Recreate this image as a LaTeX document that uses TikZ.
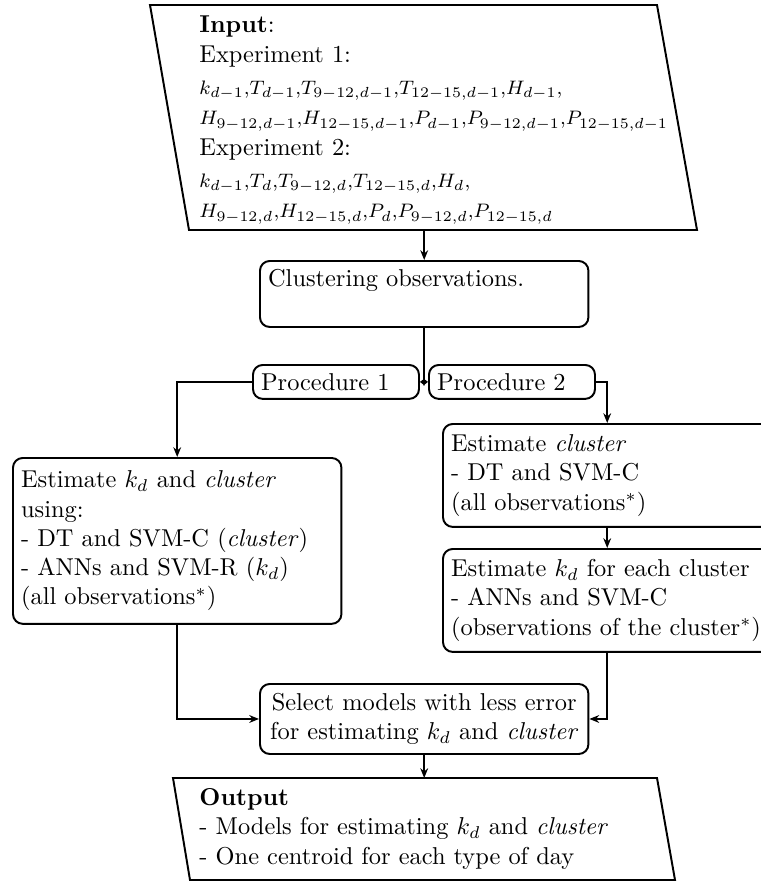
\documentclass[tikz,border=0pt]{standalone}
\usetikzlibrary{arrows.meta}
\begin{document}
\begin{tikzpicture}[x=0.41pt, y=-0.41pt,
  flowbox/.style={draw, thick, rounded corners=4pt, anchor=north west, align=left},
  widebox/.style={flowbox, text width=128pt},
  procbox/.style={flowbox, text width=61.4pt, minimum height=13.9pt},
  arr/.style={thick, -{Stealth[length=4pt, width=3.2pt]}},
  tinyarr/.style={thick, -{Stealth[length=2pt, width=3pt]}},
  frame/.style={draw, thick, line join=miter}]
\useasboundingbox (0,0) rectangle (760,882);

% input parallelogram
\coordinate (in-tl) at (150,5);
\coordinate (in-tr) at (657,5);
\coordinate (in-br) at (697,230);
\coordinate (in-bl) at (189,230);
\draw[frame] (in-tl) -- (in-tr) -- (in-br) -- (in-bl) -- cycle;
\node[anchor=north west, inner sep=0pt, align=left] (input) at (199,15) {%
  \textbf{Input}:\\[0.5pt]
  Experiment 1:\\[1pt]
  {\footnotesize $k_{d-1}{,}T_{d-1}{,}T_{9-12,d-1}{,}T_{12-15,d-1}{,}H_{d-1}{,}$}\\[0.5pt]
  {\footnotesize $H_{9-12,d-1}{,}H_{12-15,d-1}{,}P_{d-1}{,}P_{9-12,d-1}{,}P_{12-15,d-1}$}\\[0.5pt]
  Experiment 2:\\[1pt]
  {\footnotesize $k_{d-1}{,}T_d{,}T_{9-12,d}{,}T_{12-15,d}{,}H_d{,}$}\\[0.5pt]
  {\footnotesize $H_{9-12,d}{,}H_{12-15,d}{,}P_d{,}P_{9-12,d}{,}P_{12-15,d}$}};

% clustering step
\node[widebox, text height=7pt, text depth=13.4pt] (clust) at (259,260)
  {Clustering observations.};

% the two procedures
\node[procbox] (p1) at (252,364) {Procedure 1};
\node[procbox] (p2) at (428,364) {Procedure 2};

% procedure 1
\node[widebox, minimum height=68pt] (lbox) at (12,457)
  {Estimate $k_d$ and \textit{cluster}\\
   using:\\
   - DT and SVM-C (\textit{cluster})\\
   - ANNs and SVM-R ($k_d$)\\
   (all observations$^*$)};

% procedure 2
\node[widebox, minimum height=42.2pt] (rbox1) at (442,423)
  {Estimate \textit{cluster}\\
   - DT and SVM-C\\
   (all observations$^*$)};
\node[widebox, minimum height=42.2pt] (rbox2) at (442,548)
  {Estimate $k_d$ for each cluster\\
   - ANNs and SVM-C\\
   (observations of the cluster$^*$)};

% model selection
\node[widebox, align=center, minimum height=28.7pt] (select) at (259,683)
  {Select models with less error\\
   for estimating $k_d$ and \textit{cluster}};

% output parallelogram
\coordinate (out-tl) at (173,778);
\coordinate (out-tr) at (657,778);
\coordinate (out-br) at (675,880);
\coordinate (out-bl) at (190,880);
\draw[frame] (out-tl) -- (out-tr) -- (out-br) -- (out-bl) -- cycle;
\node[anchor=north west, inner sep=0pt, align=left] (output) at (199,788) {%
  \textbf{Output}\\
  - Models for estimating $k_d$ and \textit{cluster}\\
  - One centroid for each type of day};

% connectors
\draw[arr] (clust.north |- in-bl) -- (clust.north);
\draw[thick] (clust.south) -- (clust.south |- p1.east);
\draw[tinyarr] (clust.south |- p1.east) -- (p1.east);
\draw[tinyarr] (clust.south |- p2.west) -- (p2.west);
\draw[arr] (p1.west) -| (lbox.north);
\draw[arr] (p2.east) -| (rbox1.north);
\draw[arr] (rbox1.south) -- (rbox2.north);
\draw[arr] (lbox.south) |- (select.west);
\draw[arr] (rbox2.south) |- (select.east);
\draw[arr] (select.south) -- (select.south |- out-tl);
\end{tikzpicture}
\end{document}
